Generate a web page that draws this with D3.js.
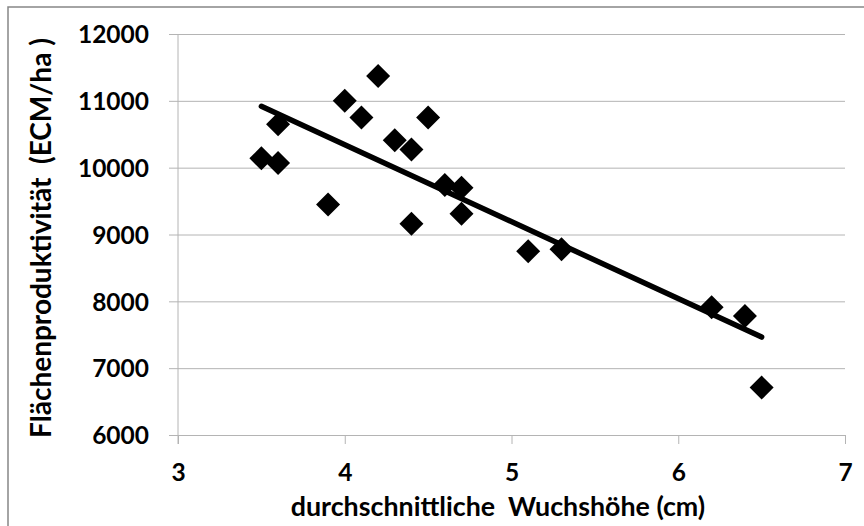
<!DOCTYPE html>
<html>
<head>
<meta charset="utf-8">
<script src="https://cdn.jsdelivr.net/npm/d3@7"></script>
<style>
  body { margin: 0; background: #fff; }
  svg { display: block; font-family: Lato, "Liberation Sans", sans-serif; font-weight: bold; }
  text { white-space: pre; }
</style>
</head>
<body>
<svg width="864" height="526"></svg>
<script>
// Wuchshöhe (cm) and Flächenproduktivität (ECM/ha)
var heights = [3.5, 3.6, 3.6, 3.9, 4.0, 4.1, 4.2, 4.3, 4.4, 4.4, 4.5, 4.6, 4.7, 4.7, 5.1, 5.3, 6.2, 6.4, 6.5];
var productivity = [10140, 10070, 10650, 9450, 11000, 10750, 11370, 10410, 10270, 9160, 10750, 9740, 9700, 9310, 8750, 8780, 7910, 7780, 6710];
var xTicks = [3, 4, 5, 6, 7];
var yTicks = [6000, 7000, 8000, 9000, 10000, 11000, 12000];
var xTitle = "durchschnittliche  Wuchshöhe (cm)";
var yTitle = "Flächenproduktivität  (ECM/ha )";

var svg = d3.select("svg"),
    pLeft = 178, pRight = 845, pTop = 34, pBottom = 435;

var x = d3.scaleLinear().domain([3, 7]).range([pLeft, pRight]);
var y = d3.scaleLinear().domain([6000, 12000]).range([pBottom, pTop]);

var data = heights.map(function(h, i) { return {x: h, y: productivity[i]}; });

// chart frame (cut off at right/bottom in the original)
svg.append("rect")
    .attr("x", 8).attr("y", 7)
    .attr("width", 880).attr("height", 540)
    .attr("fill", "none")
    .attr("stroke", "#868686")
    .attr("stroke-width", 1.5);

// horizontal gridlines + y axis
var yAxis = svg.append("g")
    .attr("transform", "translate(" + pLeft + ",0)")
    .call(d3.axisLeft(y).tickValues(yTicks).tickFormat(d3.format("d"))
        .tickSize(-(pRight - pLeft)).tickSizeOuter(0).tickPadding(29));
yAxis.select(".domain").remove();
yAxis.selectAll(".tick line").attr("stroke", "#b4b4b4").attr("x1", -9);
yAxis.selectAll(".tick text")
    .attr("font-size", 24.5)
    .attr("font-family", "Lato")
    .attr("fill", "#000")
    .attr("dy", "0.36em");

svg.append("line")
    .attr("x1", pLeft).attr("x2", pLeft)
    .attr("y1", pTop).attr("y2", pBottom + 9)
    .attr("stroke", "#b4b4b4");

// x axis
var xAxis = svg.append("g")
    .attr("transform", "translate(0," + pBottom + ")")
    .call(d3.axisBottom(x).tickValues(xTicks).tickFormat(d3.format("d"))
        .tickSize(9).tickSizeOuter(0).tickPadding(20));
xAxis.select(".domain").attr("stroke", "#b4b4b4");
xAxis.selectAll(".tick line").attr("stroke", "#b4b4b4");
xAxis.selectAll(".tick text")
    .attr("font-size", 24.5)
    .attr("font-family", "Lato")
    .attr("fill", "#000")
    .attr("dy", "0.71em");

// axis titles
svg.append("text")
    .attr("x", 498).attr("y", 516)
    .attr("text-anchor", "middle")
    .attr("font-size", 26.8)
    .text(xTitle);

svg.append("text")
    .attr("transform", "translate(51," + 238 + ") rotate(-90)")
    .attr("text-anchor", "middle")
    .attr("font-size", 28)
    .text(yTitle);

// linear trendline (least squares)
var mx = d3.mean(data, function(d) { return d.x; }),
    my = d3.mean(data, function(d) { return d.y; });
var sxy = d3.sum(data, function(d) { return (d.x - mx) * (d.y - my); }),
    sxx = d3.sum(data, function(d) { return (d.x - mx) * (d.x - mx); });
var slope = sxy / sxx, icpt = my - slope * mx;
var x0 = d3.min(heights), x1 = d3.max(heights);

svg.append("line")
    .attr("x1", x(x0)).attr("y1", y(icpt + slope * x0))
    .attr("x2", x(x1)).attr("y2", y(icpt + slope * x1))
    .attr("stroke", "#000")
    .attr("stroke-width", 5.5)
    .attr("stroke-linecap", "round");

// diamond markers
var r = 12;
svg.selectAll(".pt")
    .data(data)
    .enter().append("path")
    .attr("class", "pt")
    .attr("d", function(d) {
        var cx = x(d.x), cy = y(d.y);
        return "M" + cx + "," + (cy - r) + "L" + (cx + r) + "," + cy +
               "L" + cx + "," + (cy + r) + "L" + (cx - r) + "," + cy + "Z";
    })
    .attr("fill", "#000");
</script>
</body>
</html>
